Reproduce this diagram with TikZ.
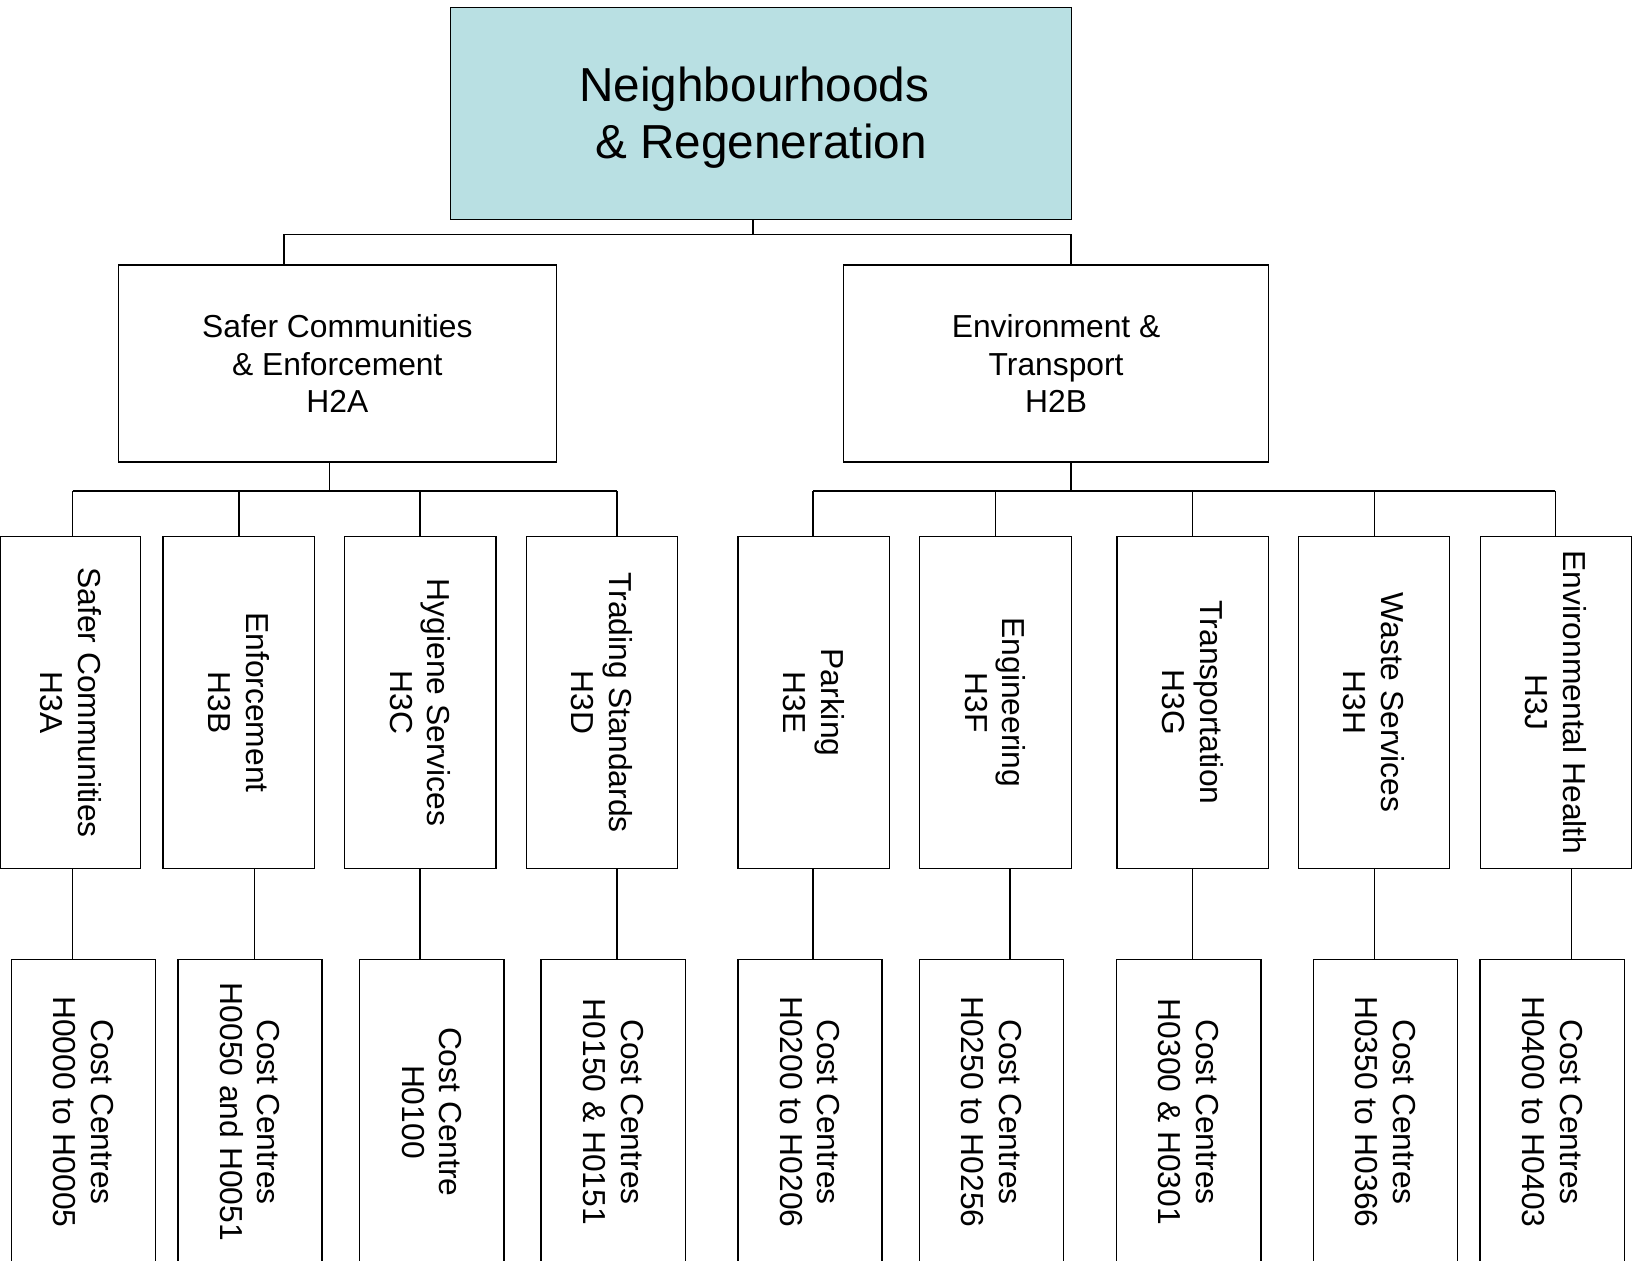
\documentclass[tikz,border=0pt]{standalone}
\usepackage{fontspec}
\setmainfont{Liberation Sans}
\definecolor{topfill}{RGB}{185,224,227}
\begin{document}
\begin{tikzpicture}[x=0.5pt,y=-0.5pt, line width=0.7pt,
  box/.style={draw=black, inner sep=0pt, align=center},
  bigtext/.style={font=\fontsize{23.85}{28.7}\selectfont},
  midtext/.style={font=\fontsize{15.9}{18.8}\selectfont},
  lvthree/.style={box, midtext, rotate=-90, minimum width=166.2pt, minimum height=75.75pt},
  lvfour/.style={box, midtext, rotate=-90, minimum width=152.15pt, minimum height=72.1pt},
  conn/.style={draw=black, line width=0.7pt}]
\useasboundingbox (0,0) rectangle (1638,1261);
\clip (0,0) rectangle (1638,1261);

% level 1
\node[box, bigtext, fill=topfill, minimum width=310.65pt, minimum height=106pt] (top) at (761,113.3)
  {\raisebox{-2.6pt}[\height][\depth]{\begin{tabular}{@{}c@{}}Neighbourhoods\hspace*{6.6pt}\\ \& Regeneration\end{tabular}}};

% level 2
\node[box, midtext, minimum width=219.15pt, minimum height=98.5pt] (h2a) at (337.35,363.6)
  {Safer Communities\\ \& Enforcement\\ H2A};
\node[box, midtext, minimum width=212.6pt, minimum height=98.5pt] (h2b) at (1056.1,363.6)
  {Environment \&\\ Transport\\ H2B};

% level 3
\node[lvthree, minimum height=70.1pt] (h3a) at (70.6,702.5) {Safer Communities\\ H3A};
\node[lvthree] (h3b) at (238.75,702.5) {Enforcement\\ H3B};
\node[lvthree] (h3c) at (420.25,702.5) {Hygiene Services\\ H3C};
\node[lvthree] (h3d) at (602,702.5) {Trading Standards\\ H3D};
\node[lvthree] (h3e) at (813.8,702.5) {Parking\\ H3E};
\node[lvthree] (h3f) at (995.5,702.5) {Engineering\\ H3F};
\node[lvthree] (h3g) at (1192.6,702.5) {Transportation\\ H3G};
\node[lvthree] (h3h) at (1374,702.5) {Waste Services\\ H3H};
\node[lvthree] (h3j) at (1556,702.5) {Environmental Health\\ H3J};

% level 4
\node[lvfour] (cc1) at (83.4,1111.85) {Cost Centres\\ H0000 to H0005};
\node[lvfour] (cc2) at (250,1111.85) {Cost Centres\\ H0050 and H0051};
\node[lvfour] (cc3) at (431.75,1111.85) {Cost Centre\\ H0100};
\node[lvfour] (cc4) at (613.2,1111.85) {Cost Centres\\ H0150 \& H0151};
\node[lvfour] (cc5) at (810,1111.85) {Cost Centres\\ H0200 to H0206};
\node[lvfour] (cc6) at (991.5,1111.85) {Cost Centres\\ H0250 to H0256};
\node[lvfour] (cc7) at (1188.7,1111.85) {Cost Centres\\ H0300 \& H0301};
\node[lvfour] (cc8) at (1385.6,1111.85) {Cost Centres\\ H0350 to H0366};
\node[lvfour] (cc9) at (1552.2,1111.85) {Cost Centres\\ H0400 to H0403};

% connector x positions and bus levels
\coordinate (xtop) at (753.1,0);
\coordinate (xa) at (284,0);
\coordinate (xb) at (1071,0);
\coordinate (bus1) at (0,234.3);
\coordinate (xh2a) at (329.5,0);
\coordinate (bus2) at (0,491);
\coordinate (ka) at (72.7,0);
\coordinate (kb) at (239,0);
\coordinate (kc) at (420,0);
\coordinate (kd) at (617,0);
\coordinate (ke) at (813,0);
\coordinate (kf) at (995.2,0);
\coordinate (kg) at (1192.4,0);
\coordinate (kh) at (1374.4,0);
\coordinate (kj) at (1555.4,0);
\coordinate (ma) at (72.7,0);
\coordinate (mb) at (254.7,0);
\coordinate (mc) at (420,0);
\coordinate (md) at (617,0);
\coordinate (me) at (813,0);
\coordinate (mf) at (1009.9,0);
\coordinate (mg) at (1192.4,0);
\coordinate (mh) at (1374.4,0);
\coordinate (mj) at (1571.6,0);

% level 1 -> level 2
\draw[conn] (top.south -| xtop) -- (xtop |- bus1);
\draw[conn] (h2a.north -| xa) -- (xa |- bus1) -- (xb |- bus1) -- (h2b.north -| xb);

% level 2 -> level 3 (left)
\draw[conn] (h2a.south -| xh2a) -- (xh2a |- bus2);
\draw[conn] (ka |- bus2) -- (kd |- bus2);
\foreach \k/\n in {ka/h3a,kb/h3b,kc/h3c,kd/h3d}
  \draw[conn] (\k |- bus2) -- (\n.west -| \k);

% level 2 -> level 3 (right)
\draw[conn] (h2b.south -| xb) -- (xb |- bus2);
\draw[conn] (ke |- bus2) -- (kj |- bus2);
\foreach \k/\n in {ke/h3e,kf/h3f,kg/h3g,kh/h3h,kj/h3j}
  \draw[conn] (\k |- bus2) -- (\n.west -| \k);

% level 3 -> level 4
\foreach \m/\a/\b in {ma/h3a/cc1,mb/h3b/cc2,mc/h3c/cc3,md/h3d/cc4,me/h3e/cc5,mf/h3f/cc6,mg/h3g/cc7,mh/h3h/cc8,mj/h3j/cc9}
  \draw[conn] (\a.east -| \m) -- (\b.west -| \m);
\end{tikzpicture}
\end{document}
